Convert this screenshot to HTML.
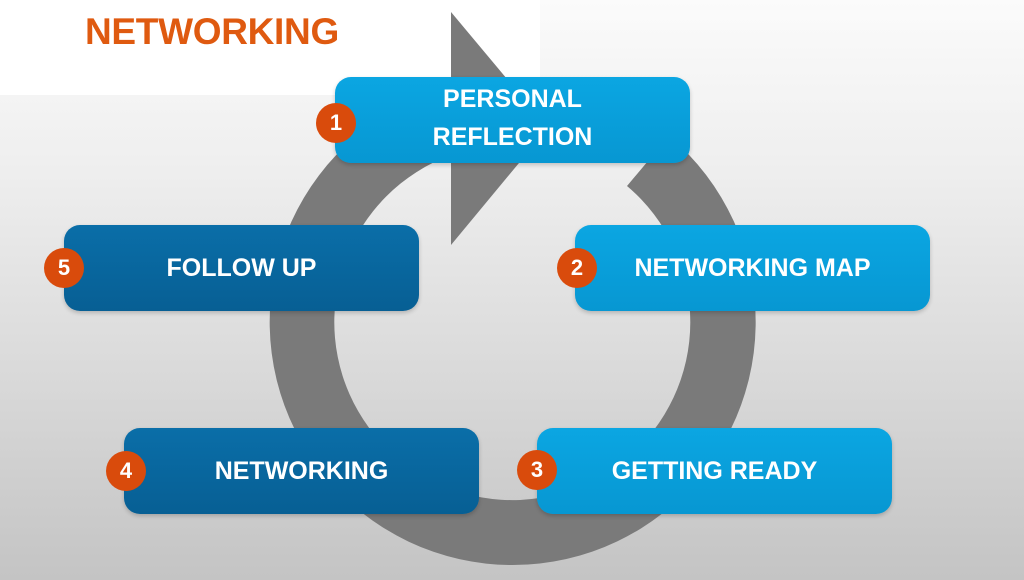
<!DOCTYPE html>
<html><head><meta charset="utf-8"><style>
body{margin:0;width:1024px;height:580px;overflow:hidden;position:relative;font-family:"Liberation Sans",Arial,sans-serif;
background:linear-gradient(180deg,#fbfbfb 0%,#eeeeee 30%,#d6d6d6 70%,#c4c4c4 100%);}
.panel{position:absolute;left:-20px;top:-20px;width:560px;height:115px;background:#fff;border-radius:18px;}
.title{position:absolute;left:85px;top:11px;font-size:37px;font-weight:bold;color:#df5a10;letter-spacing:-0.3px;}
.box{position:absolute;width:355px;height:86px;border-radius:16px;color:#fff;font-weight:bold;font-size:25px;display:flex;align-items:center;justify-content:center;text-align:center;line-height:38px;box-shadow:0 2px 4px rgba(0,0,0,.2);}
.lb{background:linear-gradient(180deg,#0ba6e2,#0797d2);}
.db{background:linear-gradient(180deg,#0a6ea8,#075f94);}
.c{position:absolute;width:40px;height:40px;border-radius:50%;background:#d94b0c;color:#fff;font-size:22px;font-weight:bold;display:flex;align-items:center;justify-content:center;}
</style></head><body>
<div class="panel"></div>
<div class="title">NETWORKING</div>
<svg style="position:absolute;left:0;top:0" width="1024" height="580">
<path d="M451 87 A243 243 0 1 0 669 136 L627 186 A178 178 0 1 1 451 155 Z" fill="#7a7a7a"/>
<polygon points="451,12 451,245 548,128" fill="#7a7a7a"/>
</svg>
<div class="box lb" style="left:335px;top:77px;padding-bottom:4px;box-sizing:border-box">PERSONAL<br>REFLECTION</div>
<div class="box lb" style="left:575px;top:225px">NETWORKING MAP</div>
<div class="box lb" style="left:537px;top:428px">GETTING READY</div>
<div class="box db" style="left:124px;top:428px">NETWORKING</div>
<div class="box db" style="left:64px;top:225px">FOLLOW UP</div>
<div class="c" style="left:316px;top:103px">1</div>
<div class="c" style="left:557px;top:248px">2</div>
<div class="c" style="left:517px;top:450px">3</div>
<div class="c" style="left:106px;top:451px">4</div>
<div class="c" style="left:44px;top:248px">5</div>
</body></html>
